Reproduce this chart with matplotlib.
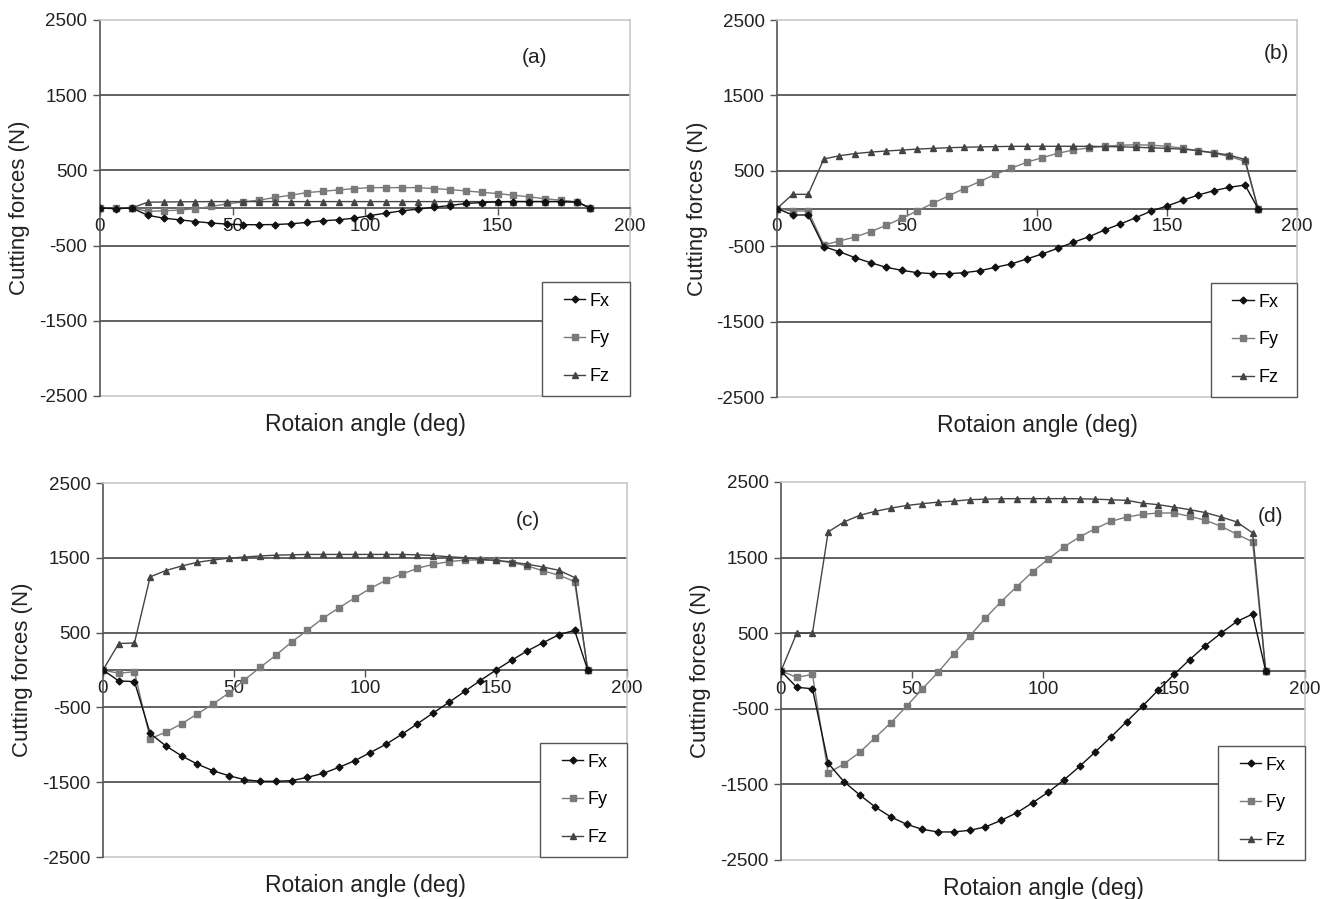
import matplotlib
matplotlib.use("Agg")
import matplotlib.pyplot as plt
from matplotlib.lines import Line2D
from matplotlib.legend_handler import HandlerLine2D

plt.rcParams['font.family'] = ['Liberation Sans', 'DejaVu Sans']

# Datos (angulo de rotacion en grados, fuerzas en N)
angulo = [0, 6, 12, 18, 24, 30, 36, 42, 48, 54, 60, 66, 72, 78, 84, 90,
          96, 102, 108, 114, 120, 126, 132, 138, 144, 150, 156, 162, 168, 174, 180, 185]

fx_a = [0, -10, 0, -97, -135, -157, -180, -200, -214, -222, -222, -220, -210, -192, -170, -157,
        -135, -100, -68, -37, -15, 10, 33, 60, 73, 82, 86, 86, 86, 86, 77, 0]
fy_a = [0, -5, 0, -45, -37, -28, -10, 20, 55, 82, 104, 140, 170, 205, 222, 240,
        258, 271, 271, 271, 271, 258, 245, 227, 209, 192, 170, 148, 122, 104, 82, 0]
fz_a = [0, -5, 0, 77, 80, 82, 84, 85, 85, 85, 85, 85, 85, 85, 85, 85,
        85, 85, 85, 85, 85, 85, 85, 85, 85, 85, 85, 85, 85, 85, 80, 0]

fx_b = [0, -86, -86, -506, -573, -652, -719, -780, -820, -851, -865, -865, -851, -825, -780, -736,
        -670, -603, -528, -448, -374, -285, -206, -122, -33, 33, 108, 179, 236, 281, 312, 0]
fy_b = [0, -33, -33, -484, -431, -378, -307, -223, -130, -31, 69, 168, 265, 358, 453, 533,
        613, 674, 732, 776, 805, 825, 840, 845, 840, 825, 800, 765, 733, 690, 625, 0]
fz_b = [0, 188, 188, 656, 700, 728, 748, 763, 775, 788, 798, 806, 812, 817, 821, 824,
        825, 825, 825, 825, 824, 822, 818, 812, 805, 797, 787, 768, 740, 708, 650, 0]

fx_c = [0, -146, -155, -848, -1015, -1148, -1258, -1347, -1413, -1466, -1488, -1488, -1479, -1435, -1382, -1302,
        -1214, -1104, -993, -861, -719, -574, -433, -287, -141, 0, 132, 256, 366, 472, 530, 0]
fy_c = [0, -44, -22, -918, -830, -719, -587, -454, -309, -132, 35, 198, 375, 530, 693, 830,
        962, 1090, 1201, 1280, 1360, 1413, 1448, 1470, 1470, 1466, 1435, 1391, 1325, 1267, 1183, 0]
fz_c = [0, 353, 362, 1245, 1330, 1390, 1440, 1470, 1495, 1510, 1525, 1535, 1540, 1545, 1545, 1545,
        1545, 1545, 1545, 1545, 1540, 1530, 1514, 1501, 1479, 1466, 1444, 1413, 1377, 1333, 1236, 0]

fx_d = [0, -215, -235, -1220, -1463, -1638, -1800, -1932, -2028, -2095, -2129, -2129, -2107, -2063, -1976, -1875,
        -1743, -1603, -1441, -1261, -1069, -871, -668, -463, -253, -46, 151, 336, 502, 655, 753, 0]
fy_d = [0, -83, -46, -1349, -1230, -1077, -880, -682, -463, -235, -15, 230, 460, 700, 917, 1116,
        1313, 1480, 1642, 1774, 1884, 1980, 2037, 2072, 2090, 2090, 2046, 1993, 1914, 1809, 1708, 0]
fz_d = [0, 500, 500, 1840, 1971, 2059, 2112, 2155, 2190, 2213, 2234, 2247, 2266, 2273, 2278, 2280,
        2280, 2280, 2280, 2278, 2273, 2265, 2257, 2220, 2200, 2168, 2134, 2095, 2037, 1971, 1826, 0]

etiquetas = ['(a)', '(b)', '(c)', '(d)']
y_ticks = [2500, 1500, 500, -500, -1500, -2500]
x_ticks = [0, 50, 100, 150, 200]

series = [(fx_a, fy_a, fz_a), (fx_b, fy_b, fz_b), (fx_c, fy_c, fz_c), (fx_d, fy_d, fz_d)]

# posiciones de los paneles en pixeles (izq, der, arriba, abajo)
W, H = 1336, 899
cajas = [(100, 630, 20, 396), (777, 1297, 20, 397), (103, 627, 483, 857), (781, 1305, 482, 860)]
pos_etiqueta = [(164, 2000), (192, 2050), (162, 2000), (187, 2040)]

fig = plt.figure(figsize=(W / 100, H / 100), dpi=100)
oscuro = '#555555'
claro = '#c8c8c8'

for i, (fx, fy, fz) in enumerate(series):
    l, r, t, b = cajas[i]
    alto = b - t
    ax = fig.add_axes([l / W, (H - b) / H, (r - l) / W, alto / H])
    ax.set_xlim(0, 200)
    ax.set_ylim(-2500, 2500)

    for g in [1500, 500, -500, -1500]:
        ax.axhline(g, color=oscuro, lw=1.3, zorder=1)
    ax.axhline(-2500, color=claro, lw=1.2, zorder=1, clip_on=False)

    ax.plot(angulo, fx, '-', color='#111111', lw=1.0, marker='D', ms=3.5, label='Fx', zorder=4)
    ax.plot(angulo, fy, '-', color='#7a7a7a', lw=1.0, marker='s', ms=4.5, label='Fy', zorder=3)
    ax.plot(angulo, fz, '-', color='#444444', lw=1.0, marker='^', ms=5, label='Fz', zorder=3)

    ax.spines['bottom'].set_position(('data', 0))
    ax.spines['bottom'].set_color(oscuro)
    ax.spines['bottom'].set_linewidth(1.3)
    ax.spines['left'].set_color(oscuro)
    ax.spines['left'].set_linewidth(1.2)
    ax.spines['top'].set_color(claro)
    ax.spines['right'].set_color(claro)
    ax.spines['top'].set_linewidth(1.2)
    ax.spines['right'].set_linewidth(1.2)

    ax.set_xticks(x_ticks)
    ax.set_yticks(y_ticks)
    ax.set_yticklabels([str(v) for v in y_ticks])
    ax.tick_params(axis='both', direction='out', length=5, width=1, color=oscuro,
                   labelsize=13.5, labelcolor='#222222')
    ax.tick_params(axis='x', pad=2)
    ax.tick_params(axis='y', pad=4)

    ax.set_xlabel('Rotaion angle (deg)', fontsize=16.5, color='#222222')
    ax.xaxis.set_label_coords(0.5, -17 / alto)
    ax.set_ylabel('Cutting forces (N)', fontsize=16, color='#222222')
    ax.yaxis.set_label_coords(-0.133, 0.5)

    ax.text(pos_etiqueta[i][0], pos_etiqueta[i][1], etiquetas[i], fontsize=15,
            ha='center', va='center', color='#222222')

    leg = ax.legend(loc='lower left', bbox_to_anchor=(0.834, 0, 0.166, 0.334), mode='expand',
                    borderaxespad=0, fontsize=13, frameon=True, fancybox=False,
                    borderpad=0.6, labelspacing=1.15, handlelength=1.8, handletextpad=0.25,
                    handler_map={Line2D: HandlerLine2D(numpoints=1, xpad=0.6)})
    leg.get_frame().set_edgecolor(oscuro)
    leg.get_frame().set_linewidth(1.0)
    leg.get_frame().set_alpha(1)
    leg.set_zorder(6)

plt.savefig('out.png', dpi=100)
